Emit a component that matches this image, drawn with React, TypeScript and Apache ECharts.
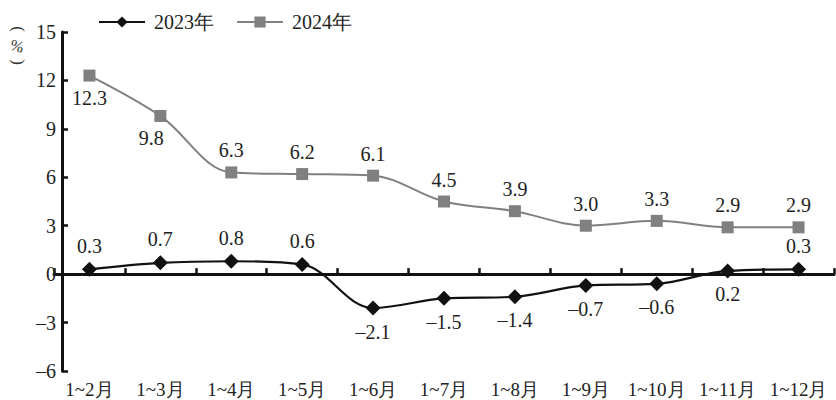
import React, { useEffect, useRef } from "react";
import * as echarts from "echarts";

const categories = ["1~2月", "1~3月", "1~4月", "1~5月", "1~6月", "1~7月", "1~8月", "1~9月", "1~10月", "1~11月", "1~12月"];
const values2023 = [0.3, 0.7, 0.8, 0.6, -2.1, -1.5, -1.4, -0.7, -0.6, 0.2, 0.3];
const values2024 = [12.3, 9.8, 6.3, 6.2, 6.1, 4.5, 3.9, 3.0, 3.3, 2.9, 2.9];
const labelPos2023 = ["top", "top", "top", "top", "bottom", "bottom", "bottom", "bottom", "bottom", "bottom", "top"];
const labelPos2024 = ["bottom", "bottom", "top", "top", "top", "top", "top", "top", "top", "top", "top"];

const FONT = "serif";
const fmtNum = (v: number) => (v < 0 ? "–" + Math.abs(v).toFixed(1) : v.toFixed(1));

export default function App() {
  const ref = useRef<HTMLDivElement>(null);
  useEffect(() => {
    const chart = echarts.init(ref.current!, null, { renderer: "svg" });
    const mk = (vals: number[], pos: string[], offs?: (i: number) => number[]) =>
      vals.map((v, i) => ({
        value: v,
        label: {
          position: pos[i],
          offset: offs ? offs(i) : [0, 0],
        },
      }));
    chart.setOption({
      animation: false,
      textStyle: { fontFamily: FONT },
      legend: {
        top: 7,
        left: 93,
        itemWidth: 46,
        itemHeight: 14,
        itemGap: 22,
        textStyle: { fontFamily: FONT, fontSize: 20, color: "#222", padding: [0, 0, 0, 4] },
        data: ["2023年", "2024年"],
      },
      grid: { left: 54, right: 2, top: 32, bottom: 29 },
      xAxis: {
        type: "category",
        data: categories,
        boundaryGap: true,
        axisLine: { onZero: true, lineStyle: { color: "#111", width: 3 } },
        axisTick: { show: true, inside: true, length: 6, lineStyle: { width: 2.5, color: "#111" } },
        axisLabel: {
          fontFamily: FONT,
          fontSize: 19,
          color: "#222",
          margin: 9,
          interval: 0,
        },
        position: "bottom",
      },
      yAxis: {
        type: "value",
        min: -6,
        max: 15,
        interval: 3,
        offset: -8,
        splitLine: { show: false },
        axisLine: { show: true, lineStyle: { color: "#111", width: 3 } },
        axisTick: { show: true, inside: true, length: 6, lineStyle: { width: 2.5, color: "#111" } },
        axisLabel: {
          fontFamily: FONT,
          fontSize: 20,
          color: "#222",
          margin: 6,
          formatter: (v: number) => (v < 0 ? "–" + Math.abs(v) : String(v)),
        },
      },
      graphic: [
        {
          type: "text",
          x: 18,
          y: 29,
          rotation: -Math.PI / 2,
          style: { text: "(", fontFamily: FONT, fontSize: 17, fill: "#333", align: "center", verticalAlign: "middle" },
        },
        {
          type: "text",
          x: 17,
          y: 46,
          rotation: -Math.PI / 12,
          style: { text: "%", fontFamily: FONT, fontSize: 16, fill: "#333", align: "center", verticalAlign: "middle" },
        },
        {
          type: "text",
          x: 18,
          y: 62,
          rotation: -Math.PI / 2,
          style: { text: ")", fontFamily: FONT, fontSize: 17, fill: "#333", align: "center", verticalAlign: "middle" },
        },
      ],
      series: [
        {
          name: "2023年",
          type: "line",
          smooth: 0.35,
          data: mk(values2023, labelPos2023),
          symbol: "diamond",
          symbolSize: [15, 15],
          itemStyle: { color: "#111" },
          lineStyle: { color: "#111", width: 2.2 },
          label: {
            show: true,
            fontFamily: FONT,
            fontSize: 20,
            color: "#222",
            distance: 6,
            formatter: (p: any) => fmtNum(p.value),
          },
          z: 3,
        },
        {
          name: "2024年",
          type: "line",
          smooth: 0.35,
          data: mk(values2024, labelPos2024, (i) => (i === 1 ? [-9, 0] : [0, 0])),
          symbol: "rect",
          symbolSize: 12,
          itemStyle: { color: "#808080" },
          lineStyle: { color: "#808080", width: 2 },
          label: {
            show: true,
            fontFamily: FONT,
            fontSize: 20,
            color: "#222",
            distance: 6,
            formatter: (p: any) => fmtNum(p.value),
          },
          z: 2,
        },
      ],
    });
    return () => chart.dispose();
  }, []);
  return <div ref={ref} style={{ width: 836, height: 400, position: "absolute", left: 0, top: 0, background: "#fff" }} />;
}
